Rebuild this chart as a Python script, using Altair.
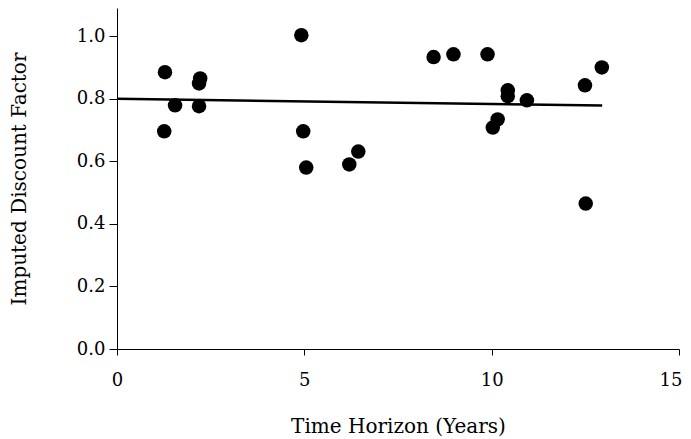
import altair as alt
import pandas as pd

horizon = [1.28, 1.26, 1.55, 2.22, 2.19, 2.19, 4.92, 4.97, 5.05, 6.20, 6.44,
           8.45, 8.98, 9.89, 10.03, 10.16, 10.43, 10.43, 10.94, 12.49, 12.51, 12.94]
factor = [0.885, 0.696, 0.779, 0.865, 0.849, 0.776, 1.003, 0.696, 0.580, 0.590, 0.631,
          0.933, 0.942, 0.942, 0.708, 0.734, 0.827, 0.808, 0.795, 0.843, 0.465, 0.900]

trend_x = [0.0, 12.95]
trend_y = [0.800, 0.778]

pts = pd.DataFrame({"x": horizon, "y": factor})
trend = pd.DataFrame({"x": trend_x, "y": trend_y})

FONT = "DejaVu Serif"
LFS = 18
TFS = 20

xenc = alt.X("x:Q", scale=alt.Scale(domain=[0, 15], nice=False, zero=False),
             axis=alt.Axis(title="Time Horizon (Years)", values=[0, 5, 10, 15], grid=False,
                           format="d", domainColor="black", tickColor="black", tickSize=6,
                           labelFontSize=LFS, titleFontSize=TFS, labelFont=FONT, titleFont=FONT,
                           labelColor="black", titleColor="black", titleFontWeight="normal",
                           labelAlign={"condition": {"test": "datum.value >= 14", "value": "right"},
                                       "value": "center"},
                           labelOffset={"condition": {"test": "datum.value >= 14", "value": 3},
                                        "value": 0},
                           labelPadding=16, titlePadding=27, labelFlush=False))
yenc = alt.Y("y:Q", scale=alt.Scale(domain=[0, 1.09], nice=False, zero=True),
             axis=alt.Axis(title="Imputed Discount Factor", values=[0, 0.2, 0.4, 0.6, 0.8, 1.0],
                           grid=False, format=".1f", domainColor="black", tickColor="black",
                           tickSize=8, labelFontSize=LFS, titleFontSize=TFS, labelFont=FONT,
                           titleFont=FONT, labelColor="black", titleColor="black",
                           titleFontWeight="normal", labelPadding=4, titlePadding=47,
                           labelFlush=False))

points = alt.Chart(pts).mark_circle(size=210, color="black", opacity=1).encode(x=xenc, y=yenc)
line = alt.Chart(trend).mark_line(color="black", strokeWidth=2.5).encode(x="x:Q", y="y:Q")

chart = (line + points).properties(
    width=562, height=341,
    autosize=alt.AutoSizeParams(type="none"),
    padding={"left": 109, "top": 0, "right": 4, "bottom": 90},
).configure_view(stroke=None)

chart.save("out.html", embed_options={"renderer": "svg", "actions": False})
